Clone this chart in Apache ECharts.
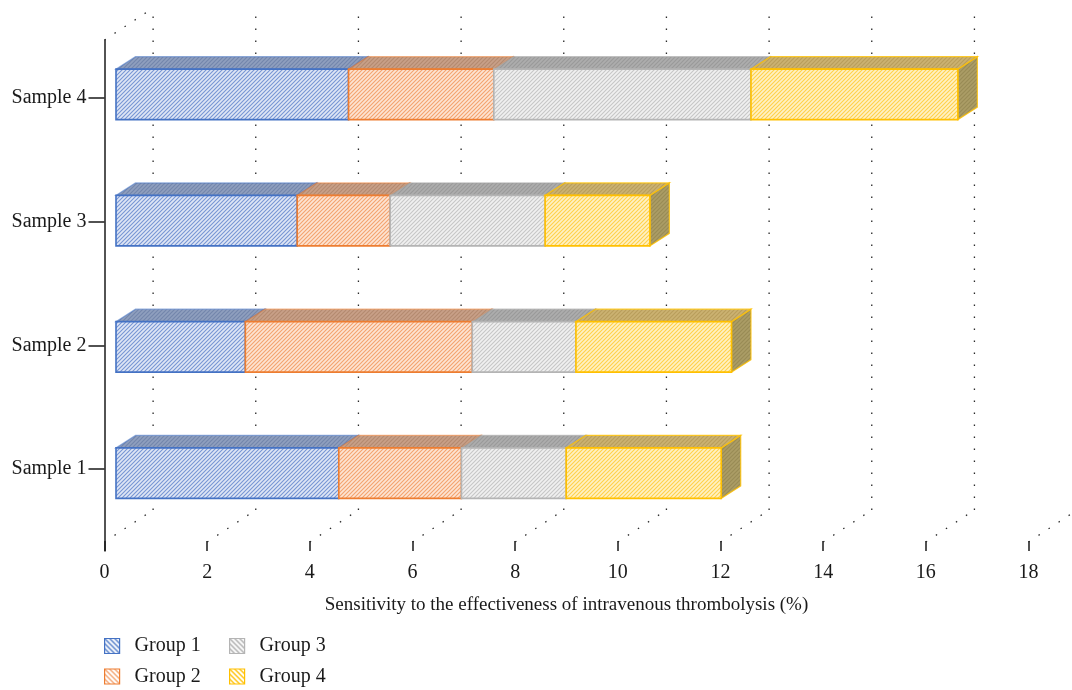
<!DOCTYPE html>
<html>
<head>
<meta charset="utf-8">
<script src="https://cdn.jsdelivr.net/npm/echarts@6/dist/echarts.min.js"></script>
<style>
  html, body { margin: 0; padding: 0; background: #ffffff; }
  #chart { width: 1072px; height: 690px; }
</style>
</head>
<body>
<div id="chart"></div>
<script>
// ---- data ----
const samples = ['Sample 1', 'Sample 2', 'Sample 3', 'Sample 4'];
const groupNames = ['Group 1', 'Group 2', 'Group 3', 'Group 4'];
const group1 = [4.34, 2.52, 3.53, 4.53];
const group2 = [2.39, 4.42, 1.81, 2.83];
const group3 = [2.04, 2.02, 3.02, 5.01];
const group4 = [3.02, 3.03, 2.04, 4.03];
const xTicks = [0, 2, 4, 6, 8, 10, 12, 14, 16, 18];
const axisTitle = 'Sensitivity to the effectiveness of intravenous thrombolysis (%)';

// ---- look ----
const FONT = "'Liberation Serif', 'Times New Roman', serif";
const INK = '#1a1a1a';

// pseudo-3D geometry (pixels)
const WALL_DX = 48.6, WALL_DY = -32;   // depth of the chart box
const BAR_DX = 11.5, BAR_DY = -8.75;   // front face of bars sits inside the box
const HALF_H = 25.25;                  // half height of the bar front face
const DEP_X = 19.5, DEP_Y = -12.5;     // bar thickness

function hatch(bg, fg, size, width, dir) {
  const c = document.createElement('canvas');
  c.width = c.height = size;
  const g = c.getContext('2d');
  g.fillStyle = bg;
  g.fillRect(0, 0, size, size);
  g.strokeStyle = fg;
  g.lineWidth = width;
  g.beginPath();
  if (dir === '/') {
    g.moveTo(-1, size + 1); g.lineTo(size + 1, -1);
    g.moveTo(-1, 1); g.lineTo(1, -1);
    g.moveTo(size - 1, size + 1); g.lineTo(size + 1, size - 1);
  } else {
    g.moveTo(-1, -1); g.lineTo(size + 1, size + 1);
    g.moveTo(size - 1, -1); g.lineTo(size + 1, 1);
    g.moveTo(-1, size - 1); g.lineTo(1, size + 1);
  }
  g.stroke();
  return { image: c, repeat: 'repeat' };
}

const palette = [
  { edge: '#4472c4', topEdge: 'rgba(68,114,196,0.55)',
    front: hatch('#dfe6f5', '#7795d3', 4, 1.1, '/'),
    top: hatch('#8f9fbe', '#7486ac', 4, 1.2, '/'),
    side: hatch('#8292b4', '#6d7fa6', 4, 1.2, '/'),
    legend: hatch('#ffffff', '#4472c4', 5, 1.3, '\\') },
  { edge: '#ed7d31', topEdge: 'rgba(237,125,49,0.55)',
    front: hatch('#fde4d3', '#f4a36e', 4, 1.1, '/'),
    top: hatch('#c8a088', '#b48a70', 4, 1.2, '/'),
    side: hatch('#b89078', '#a37c64', 4, 1.2, '/'),
    legend: hatch('#ffffff', '#f4a370', 5, 1.3, '\\') },
  { edge: '#b4b4b4', topEdge: 'rgba(165,165,165,0.6)',
    front: hatch('#f0f0f0', '#c6c6c6', 4, 1.1, '/'),
    top: hatch('#adadad', '#9a9a9a', 4, 1.2, '/'),
    side: hatch('#a0a0a0', '#8e8e8e', 4, 1.2, '/'),
    legend: hatch('#ffffff', '#a5a5a5', 5, 1.3, '\\') },
  { edge: '#ffc000', topEdge: 'rgba(255,192,0,0.8)',
    front: hatch('#fff1c4', '#ffd04a', 4, 1.1, '/'),
    top: hatch('#cbb272', '#b99e5c', 4, 1.2, '/'),
    side: hatch('#ab9d66', '#998b56', 4, 1.2, '/'),
    legend: hatch('#ffffff', '#ffc000', 5, 1.3, '\\') }
];

// stacked segments: [start, end, category index]
const groups = [group1, group2, group3, group4];
const running = samples.map(() => 0);
const segments = groups.map(vals => vals.map((v, i) => {
  const s = running[i];
  running[i] = s + v;
  return [s, s + v, i];
}));

function renderBar(params, api) {
  const sty = palette[params.seriesIndex - 1];
  const start = api.value(0), end = api.value(1), cat = api.value(2);
  const p0 = api.coord([start, cat]);
  const p1 = api.coord([end, cat]);
  const x1 = p0[0] + BAR_DX, x2 = p1[0] + BAR_DX;
  const yc = p0[1] + BAR_DY;
  const yt = yc - HALF_H, yb = yc + HALF_H;
  return {
    type: 'group',
    children: [
      { type: 'polygon',
        shape: { points: [[x2, yt], [x2 + DEP_X, yt + DEP_Y], [x2 + DEP_X, yb + DEP_Y], [x2, yb]] },
        style: { fill: sty.side, stroke: sty.topEdge, lineWidth: 1.2 } },
      { type: 'polygon',
        shape: { points: [[x1, yt], [x2, yt], [x2 + DEP_X, yt + DEP_Y], [x1 + DEP_X, yt + DEP_Y]] },
        style: { fill: sty.top, stroke: sty.topEdge, lineWidth: 1.2 } },
      { type: 'rect',
        shape: { x: x1, y: yt, width: x2 - x1, height: yb - yt },
        style: { fill: sty.front, stroke: sty.edge, lineWidth: 1.6 } }
    ]
  };
}

// dotted back wall, floor and left wall edges
const dotted = { stroke: '#2a2a2a', lineWidth: 1.3, lineDash: [1.5, 10.5], fill: null };
function renderWalls(params, api) {
  const v = api.value(0);
  const cs = params.coordSys;
  const px = api.coord([v, 0])[0];
  const floorY = cs.y + cs.height - 3;
  const topY = cs.y;
  const children = [
    { type: 'line', shape: { x1: px, y1: floorY, x2: px + WALL_DX, y2: floorY + WALL_DY }, style: dotted },
    { type: 'line', shape: { x1: px + WALL_DX, y1: floorY + WALL_DY, x2: px + WALL_DX, y2: topY + WALL_DY }, style: dotted }
  ];
  if (v === 0) {
    children.push({ type: 'line', shape: { x1: px, y1: topY, x2: px + WALL_DX, y2: topY + WALL_DY }, style: dotted });
  }
  return { type: 'group', children };
}

const textBase = { fontFamily: FONT, color: INK };

const series = [{
  type: 'custom',
  name: 'walls',
  xAxisIndex: 0, yAxisIndex: 0,
  silent: true,
  clip: false,
  z: 1,
  renderItem: renderWalls,
  encode: { x: 0, y: 1 },
  data: xTicks.map(v => [v, 0])
}].concat(groupNames.map((name, gi) => ({
  type: 'custom',
  name: name,
  xAxisIndex: 0, yAxisIndex: 0,
  clip: false,
  z: 2 + gi,
  renderItem: renderBar,
  encode: { x: [0, 1], y: 2 },
  itemStyle: { color: palette[gi].edge },
  data: segments[gi]
})));

function legendItem(i) {
  return {
    name: groupNames[i],
    icon: 'rect',
    itemStyle: { color: palette[i].legend, borderColor: palette[i].edge, borderWidth: 1.2 }
  };
}
const legendCommon = {
  orient: 'vertical',
  top: 636,
  height: 60,
  padding: 0,
  itemGap: 10.5,
  itemWidth: 15,
  itemHeight: 15,
  selectedMode: false,
  textStyle: Object.assign({ fontSize: 20, padding: [3, 0, 0, 10] }, textBase)
};

const option = {
  backgroundColor: '#ffffff',
  animation: false,
  grid: [
    // plotting box for the bars and the x axis
    { left: 104.5, width: 924, top: 40, height: 505 },
    // category labels along the left edge
    { left: 104.5, width: 924, top: 36.2, height: 494.6 },
    // left axis line
    { left: 104.5, width: 924, top: 40, height: 511 }
  ],
  xAxis: [
    { gridIndex: 0, type: 'value', min: 0, max: 18, interval: 2, offset: -4,
      axisLine: { show: false },
      axisTick: { show: true, length: 10, lineStyle: { color: INK, width: 1.5 } },
      splitLine: { show: false },
      axisLabel: Object.assign({ margin: 22, fontSize: 20 }, textBase),
      name: axisTitle, nameLocation: 'middle', nameGap: 55,
      nameTextStyle: Object.assign({ fontSize: 19 }, textBase) },
    { gridIndex: 1, type: 'value', show: false, min: 0, max: 18 },
    { gridIndex: 2, type: 'value', show: false, min: 0, max: 18 }
  ],
  yAxis: [
    { gridIndex: 0, type: 'category', data: samples,
      axisLine: { show: false }, axisTick: { show: false }, axisLabel: { show: false },
      splitLine: { show: false } },
    { gridIndex: 1, type: 'category', data: samples,
      axisLine: { show: false },
      axisTick: { show: true, alignWithLabel: true, length: 16, lineStyle: { color: INK, width: 1.5 } },
      axisLabel: Object.assign({ margin: 18, fontSize: 20 }, textBase),
      splitLine: { show: false } },
    { gridIndex: 2, type: 'value', min: 0, max: 1,
      axisLine: { show: true, lineStyle: { color: INK, width: 1.5 } },
      axisTick: { show: false }, axisLabel: { show: false }, splitLine: { show: false } }
  ],
  legend: [
    Object.assign({ left: 104, data: [legendItem(0), legendItem(1)] }, legendCommon),
    Object.assign({ left: 229, data: [legendItem(2), legendItem(3)] }, legendCommon)
  ],
  series: series
};

const chart = echarts.init(document.getElementById('chart'), null, { renderer: 'canvas' });
chart.setOption(option);
</script>
</body>
</html>
